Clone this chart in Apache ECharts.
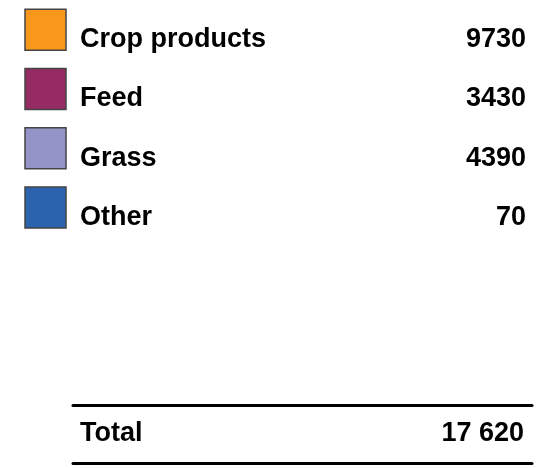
<!DOCTYPE html>
<html>
<head>
<meta charset="utf-8">
<script src="https://cdn.jsdelivr.net/npm/echarts@6/dist/echarts.min.js"></script>
<style>
  html, body { margin: 0; padding: 0; background: #fff; }
  #chart { width: 538px; height: 468px; }
</style>
</head>
<body>
<div id="chart"></div>
<script>
// 数据
const categories = ['Crop products', 'Feed', 'Grass', 'Other']
const values = [9730, 3430, 4390, 70]
const colors = ['#F7981D', '#952B62', '#9494C8', '#2B63AE']
const totalLabel = 'Total'

const total = values.reduce((a, b) => a + b, 0)
const fmtTotal = v => String(v).replace(/\B(?=(\d{3})+(?!\d))/g, ' ')

const font = {
  fontFamily: '"Liberation Sans", Arial, sans-serif',
  fontWeight: 'bold',
  fontSize: 27,
  color: '#000'
}

const hiddenLine = {
  axisLine: { show: true, lineStyle: { color: '#000', width: 3 } },
  axisTick: { show: false },
  axisLabel: { show: false },
  splitLine: { show: false }
}

// 只显示文字的点
const textOnly = { color: 'transparent', opacity: 1 }

const myChart = echarts.init(document.getElementById('chart'))

myChart.setOption({
  animation: false,
  grid: [
    { left: 25, right: 11, top: -2, height: 239 },
    { left: 73, right: 6, top: 405, height: 58 }
  ],
  xAxis: [
    { gridIndex: 0, type: 'value', min: 0, max: 1, show: false },
    { gridIndex: 1, type: 'value', min: 0, max: 1, position: 'top', ...hiddenLine },
    { gridIndex: 1, type: 'value', min: 0, max: 1, position: 'bottom', ...hiddenLine }
  ],
  yAxis: [
    { gridIndex: 0, type: 'category', data: categories, inverse: true, show: false },
    { gridIndex: 1, type: 'category', data: [totalLabel], show: false }
  ],
  series: [
    {
      name: 'swatch',
      type: 'scatter',
      xAxisIndex: 0,
      yAxisIndex: 0,
      symbol: 'rect',
      symbolSize: 41,
      symbolOffset: [20.5, 0],
      data: categories.map((name, i) => ({
        value: [0, name],
        itemStyle: { color: colors[i], opacity: 1, borderColor: '#444', borderWidth: 1.5 }
      })),
      label: {
        show: true,
        position: 'inside',
        align: 'left',
        verticalAlign: 'middle',
        offset: [34.5, 10],
        formatter: p => p.value[1],
        ...font
      },
      emphasis: { disabled: true }
    },
    {
      name: 'value',
      type: 'scatter',
      xAxisIndex: 0,
      yAxisIndex: 0,
      symbolSize: 0,
      itemStyle: textOnly,
      data: categories.map((name, i) => [1, name, values[i]]),
      label: {
        show: true,
        position: 'left',
        distance: 0,
        align: 'right',
        verticalAlign: 'middle',
        offset: [-1, 10],
        formatter: p => p.value[2],
        ...font
      },
      emphasis: { disabled: true }
    },
    {
      name: 'totalName',
      type: 'scatter',
      xAxisIndex: 1,
      yAxisIndex: 1,
      symbolSize: 0,
      itemStyle: textOnly,
      data: [[0, totalLabel]],
      label: {
        show: true,
        position: 'right',
        distance: 0,
        align: 'left',
        verticalAlign: 'middle',
        offset: [7, 0],
        formatter: totalLabel,
        ...font
      },
      emphasis: { disabled: true }
    },
    {
      name: 'totalValue',
      type: 'scatter',
      xAxisIndex: 1,
      yAxisIndex: 1,
      symbolSize: 0,
      itemStyle: textOnly,
      data: [[1, totalLabel, total]],
      label: {
        show: true,
        position: 'left',
        distance: 0,
        align: 'right',
        verticalAlign: 'middle',
        offset: [-8, 0],
        formatter: p => fmtTotal(p.value[2]),
        ...font
      },
      emphasis: { disabled: true }
    }
  ]
})
</script>
</body>
</html>
